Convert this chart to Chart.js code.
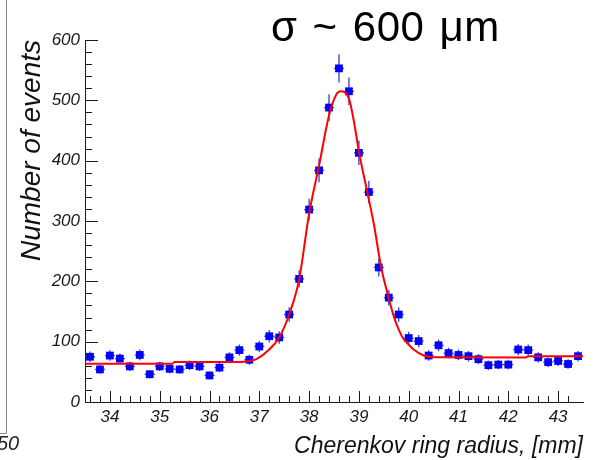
<!DOCTYPE html>
<html>
<head>
<meta charset="utf-8">
<script src="https://cdn.jsdelivr.net/npm/chart.js@4.4.1/dist/chart.umd.min.js"></script>
<style>
  html, body { margin: 0; padding: 0; background: #fff; }
  #wrap { position: relative; width: 594px; height: 460px; overflow: hidden; }
  #sigma {
    position: absolute; left: 271px; top: 6px;
    font: 42px 'Liberation Sans', Arial, sans-serif; line-height: 42px;
    word-spacing: 3px; letter-spacing: 0.5px;
    color: #000; white-space: pre;
  }
  #cut {
    position: absolute; left: -3px; top: 433px;
    font: italic 20px 'Liberation Sans', Arial, sans-serif; line-height: 20px;
    color: #222;
  }
</style>
</head>
<body>
<div id="wrap">
  <canvas id="ring" width="594" height="460"></canvas>
  <div id="sigma">σ ~ 600 μm</div>
  <div id="cut">50</div>
</div>
<script>
// ---------- histogram: bin centres (mm) and counts ----------
const radius = [
  33.6, 33.8, 34.0, 34.2, 34.4, 34.6, 34.8, 35.0, 35.2, 35.4,
  35.6, 35.8, 36.0, 36.2, 36.4, 36.6, 36.8, 37.0, 37.2, 37.4,
  37.6, 37.8, 38.0, 38.2, 38.4, 38.6, 38.8, 39.0, 39.2, 39.4,
  39.6, 39.8, 40.0, 40.2, 40.4, 40.6, 40.8, 41.0, 41.2, 41.4,
  41.6, 41.8, 42.0, 42.2, 42.4, 42.6, 42.8, 43.0, 43.2, 43.4
];
const counts = [
  75, 54, 77, 72, 59, 78, 46, 59, 55, 54,
  61, 59, 44, 57, 74, 86, 70, 92, 109, 107,
  145, 204, 319, 384, 488, 553, 515, 413, 348, 223,
  173, 145, 106, 101, 77, 94, 81, 78, 76, 71,
  61, 62, 62, 87, 86, 74, 66, 68, 63, 76
];
const binHalfWidth = 0.1;

// ---------- fitted curve (gaussian on flat background) ----------
const fitRadius = [
  33.5, 35.25, 35.3, 36.6, 36.8, 36.96, 37.2, 37.4, 37.6, 37.8,
  38.0, 38.2, 38.4, 38.55, 38.63, 38.8, 38.9, 39.0, 39.15, 39.3,
  39.45, 39.6, 39.7, 39.8, 39.9, 40.0, 40.1, 40.3, 40.5, 42.35,
  42.4, 43.5
];
const fitCounts = [
  63.5, 63.5, 66.3, 66.3, 68, 72, 87, 107, 145, 203,
  312, 392, 475, 510, 515, 503, 465, 415, 355, 295,
  222, 172, 142, 120, 104, 95, 87, 77, 74, 73.6,
  76, 76
];

// ---------- axes ----------
const xTicks = [34, 35, 36, 37, 38, 39, 40, 41, 42, 43];
const yTicks = [0, 100, 200, 300, 400, 500, 600];
const X_MIN = 33.5, X_MAX = 43.5;
const Y_MIN = 0, Y_MAX = 600;

const FONT = "'Liberation Sans', Arial, Helvetica, sans-serif";
const AXIS_COLOR = '#1a1a1a';
const MARKER_COLOR = '#0000ff';
const ERR_COLOR = 'rgba(40, 40, 200, 0.9)';

const histPoints = radius.map((r, i) => ({ x: r, y: counts[i] }));
const fitPoints = fitRadius.map((r, i) => ({ x: r, y: fitCounts[i] }));

// ROOT-like decorations: poisson error bars, inward major/minor ticks
const rootStyle = {
  id: 'rootStyle',
  beforeDatasetsDraw(chart) {
    const { ctx } = chart;
    const xs = chart.scales.x, ys = chart.scales.y;
    ctx.save();
    ctx.strokeStyle = ERR_COLOR;
    ctx.lineWidth = 1.3;
    ctx.beginPath();
    radius.forEach((r, i) => {
      const err = Math.sqrt(counts[i]);
      const px = xs.getPixelForValue(r);
      const py = ys.getPixelForValue(counts[i]);
      ctx.moveTo(px, ys.getPixelForValue(counts[i] + err));
      ctx.lineTo(px, ys.getPixelForValue(counts[i] - err));
      ctx.moveTo(xs.getPixelForValue(r - binHalfWidth), py);
      ctx.lineTo(xs.getPixelForValue(r + binHalfWidth), py);
    });
    ctx.stroke();
    ctx.restore();
  },
  afterDraw(chart) {
    const { ctx, chartArea } = chart;
    const xs = chart.scales.x, ys = chart.scales.y;
    ctx.save();
    ctx.strokeStyle = AXIS_COLOR;
    ctx.lineWidth = 1;
    ctx.beginPath();
    // y: major every 100, minor every 20
    for (let v = Y_MIN; v <= Y_MAX; v += 20) {
      const py = Math.round(ys.getPixelForValue(v)) + 0.5;
      const len = v % 100 === 0 ? 13 : 7;
      ctx.moveTo(chartArea.left, py);
      ctx.lineTo(chartArea.left + len, py);
    }
    // x: major every 1 mm, minor every 0.2 mm
    for (let k = 1; k < 50; k++) {
      const v = X_MIN + k * 0.2 - 0.1;
      const isMajor = Math.abs(v - Math.round(v)) < 1e-6;
      const px = Math.round(xs.getPixelForValue(v)) + 0.5;
      ctx.moveTo(px, chartArea.bottom);
      ctx.lineTo(px, chartArea.bottom - (isMajor ? 11 : 6));
    }
    ctx.stroke();

    // edge of the neighbouring pad on the left
    ctx.strokeStyle = '#8a8a8a';
    ctx.beginPath();
    ctx.moveTo(6.5, 0);
    ctx.lineTo(6.5, 433.5);
    ctx.lineTo(0, 433.5);
    ctx.stroke();
    ctx.restore();
  }
};

new Chart(document.getElementById('ring'), {
  type: 'scatter',
  data: {
    datasets: [
      {
        label: 'fit',
        data: fitPoints,
        showLine: true,
        borderColor: '#ff0000',
        borderWidth: 2,
        pointRadius: 0,
        cubicInterpolationMode: 'monotone',
        order: 0
      },
      {
        label: 'data',
        data: histPoints,
        pointStyle: 'rect',
        pointRadius: 5.5,
        backgroundColor: MARKER_COLOR,
        borderColor: MARKER_COLOR,
        borderWidth: 0,
        order: 1
      }
    ]
  },
  options: {
    responsive: false,
    animation: false,
    events: [],
    layout: { padding: { left: 0, top: 40, right: 11, bottom: 0 } },
    plugins: {
      legend: { display: false },
      tooltip: { enabled: false }
    },
    scales: {
      x: {
        type: 'linear',
        min: X_MIN,
        max: X_MAX,
        afterBuildTicks: s => { s.ticks = xTicks.map(v => ({ value: v })); },
        afterFit: s => { s.height = 58; },
        grid: { drawOnChartArea: false, drawTicks: false },
        border: { display: true, color: AXIS_COLOR, width: 1 },
        ticks: {
          autoSkip: false,
          maxRotation: 0,
          padding: 5,
          color: '#1a1a1a',
          font: { family: FONT, style: 'italic', size: 17 }
        },
        title: {
          display: true,
          text: 'Cherenkov ring radius, [mm]',
          align: 'end',
          color: '#111',
          padding: { top: 0, bottom: 0 },
          font: { family: FONT, style: 'italic', size: 23 }
        }
      },
      y: {
        type: 'linear',
        min: Y_MIN,
        max: Y_MAX,
        afterBuildTicks: s => { s.ticks = yTicks.map(v => ({ value: v })); },
        afterFit: s => { s.width = 85; },
        grid: { drawOnChartArea: false, drawTicks: false },
        border: { display: true, color: AXIS_COLOR, width: 1 },
        ticks: {
          autoSkip: false,
          padding: 5,
          color: '#1a1a1a',
          font: { family: FONT, style: 'italic', size: 17 }
        },
        title: {
          display: true,
          text: 'Number of events',
          align: 'end',
          color: '#111',
          padding: { top: 15, bottom: 0 },
          font: { family: FONT, style: 'italic', size: 28 }
        }
      }
    }
  },
  plugins: [rootStyle]
});
</script>
</body>
</html>
